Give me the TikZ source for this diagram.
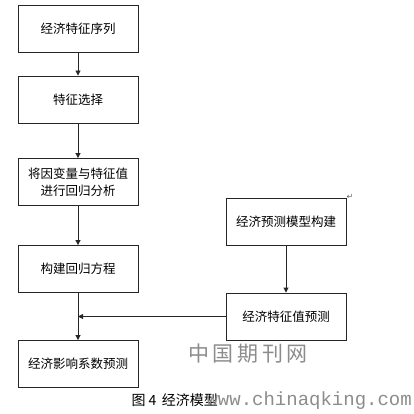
\documentclass[tikz,border=0pt]{standalone}
\usepackage{fontspec}
\setmainfont{Noto Sans CJK SC}
\newfontfamily\cjk{Noto Sans CJK SC}
\newfontfamily\wmmono{Liberation Mono}
\newfontfamily\symb{DejaVu Sans}
\usetikzlibrary{arrows.meta}
\begin{document}
\begin{tikzpicture}[x=1pt,y=-1pt,
  stepbox/.style={draw=black!85,line width=0.9pt,minimum width=120pt,minimum height=47pt,inner sep=0pt,align=center,font=\cjk\fontsize{12.5}{17}\selectfont},
  flow/.style={draw=black!85,line width=0.9pt,-{Triangle[length=5pt,width=5pt]}},
  every node/.style={text=black}]
\useasboundingbox (0,0) rectangle (414,414);
\node[stepbox] (a) at (78,28.5) {经济特征序列};
\node[stepbox] (b) at (78,99.5) {特征选择};
\node[stepbox] (c) at (78,182) {将因变量与特征值\\进行回归分析};
\node[stepbox] (d) at (78,269) {构建回归方程};
\node[stepbox] (e) at (78,364) {经济影响系数预测};
\node[stepbox] (f) at (286,221.5) {经济预测模型构建};
\node[stepbox] (g) at (286,316.5) {经济特征值预测};
\node[font=\symb\fontsize{8}{8}\selectfont,text=black!60] (ret) at (350,197) {↵};
\draw[flow] (a) -- (b);
\draw[flow] (b) -- (c);
\draw[flow] (c) -- (d);
\draw[flow] (d) -- (e);
\draw[flow] (f) -- (g);
\coordinate (j) at (d.south |- g.west);
\draw[flow] (g.west) -- (j);
\node[font=\cjk\fontsize{21}{21}\selectfont,text=black!45] (wm1) at (248,354) {中\,国\,期\,刊\,网};
\node[font=\cjk\fontsize{14}{14}\selectfont,anchor=west] (cap) at (128,400) {图 4\, 经济模型};
\node[font=\wmmono\fontsize{19}{19}\selectfont,text=black!45,anchor=east,inner sep=1pt] (wm2) at (413,401) {www.chinaqking.com};
\end{tikzpicture}
\end{document}
